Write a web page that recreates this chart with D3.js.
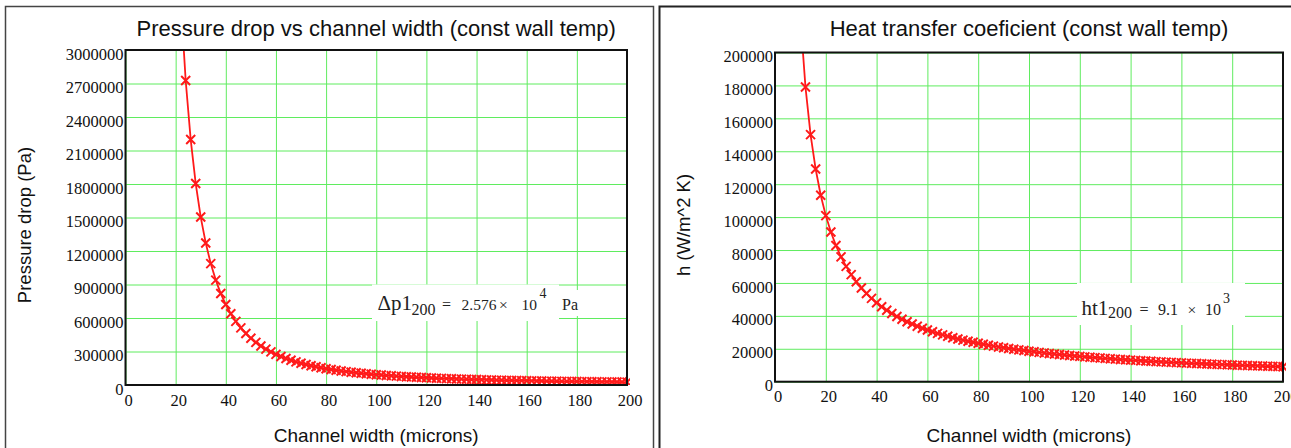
<!DOCTYPE html>
<html>
<head>
<meta charset="utf-8">
<script src="https://cdn.jsdelivr.net/npm/d3@7"></script>
<style>
  body { margin: 0; background: #fff; }
  svg { display: block; }
</style>
</head>
<body>
<svg id="chart" width="1291" height="448"></svg>
<script>
// channel widths (microns)
const widths = [10, 12, 14, 16, 18, 20, 22, 24, 26, 28, 30, 32, 34, 36, 38, 40, 42, 44, 46, 48,
  50, 52, 54, 56, 58, 60, 62, 64, 66, 68, 70, 72, 74, 76, 78, 80, 82, 84, 86, 88,
  90, 92, 94, 96, 98, 100, 102, 104, 106, 108, 110, 112, 114, 116, 118, 120, 122, 124, 126, 128,
  130, 132, 134, 136, 138, 140, 142, 144, 146, 148, 150, 152, 154, 156, 158, 160, 162, 164, 166, 168,
  170, 172, 174, 176, 178, 180, 182, 184, 186, 188, 190, 192, 194, 196, 198, 200];

// pressure drop (Pa), widths 22..200
const pressureDrop = [3457000, 2727000, 2198000, 1804000, 1504000, 1271000, 1087000, 939100, 819100, 720500,
  638400, 569700, 511300, 461600, 418800, 381800, 349600, 321300, 296400, 274300,
  254800, 237300, 221500, 207400, 194600, 183100, 172600, 163000, 154200, 146200,
  138800, 132000, 125700, 119800, 114400, 109400, 104700, 100400, 96310, 92500,
  88930, 85580, 82420, 79460, 76670, 74030, 71540, 69190, 66950, 64830,
  62820, 60910, 59110, 57380, 55740, 54170, 52660, 51240, 49880, 48570,
  47320, 46120, 44970, 43870, 42810, 41800, 40810, 39880, 38980, 38100,
  37270, 36460, 35680, 34930, 34210, 33500, 32830, 32180, 31540, 30930,
  30330, 29760, 29200, 28670, 28140, 27640, 27140, 26670, 26210, 25760];

// heat transfer coefficient (W/m^2 K), widths 10..200
const heatCoef = [221300, 179000, 150100, 129200, 113300, 100900, 90900, 82700, 75850, 70040,
  65060, 60730, 56940, 53590, 50620, 47950, 45550, 43380, 41410, 39600,
  37950, 36430, 35020, 33720, 32510, 31390, 30340, 29350, 28430, 27570,
  26750, 25980, 25260, 24570, 23920, 23310, 22720, 22160, 21630, 21130,
  20640, 20180, 19740, 19320, 18910, 18520, 18150, 17790, 17450, 17110,
  16800, 16490, 16190, 15900, 15630, 15360, 15100, 14850, 14610, 14380,
  14150, 13930, 13720, 13510, 13310, 13110, 12930, 12740, 12560, 12390,
  12220, 12050, 11890, 11740, 11590, 11440, 11290, 11150, 11010, 10880,
  10750, 10620, 10500, 10370, 10250, 10140, 10020, 9910, 9800, 9700,
  9590, 9490, 9390, 9290, 9190, 9100];

const xTicks = [0, 20, 40, 60, 80, 100, 120, 140, 160, 180, 200];
const pTicks = [0, 300000, 600000, 900000, 1200000, 1500000, 1800000, 2100000, 2400000, 2700000, 3000000];
const hTicks = [0, 20000, 40000, 60000, 80000, 100000, 120000, 140000, 160000, 180000, 200000];

const svg = d3.select("#chart");
const SERIF = "'Liberation Serif', 'Times New Roman', serif";
const SANS = "'Liberation Sans', Arial, sans-serif";
const GRID = "#5fec5f";
const RED = "#ff1a1a";

// panel frames
svg.append("rect").attr("x", 5.5).attr("y", 6.5).attr("width", 648).attr("height", 470)
  .attr("fill", "none").attr("stroke", "#444").attr("stroke-width", 1.5);
svg.append("rect").attr("x", 659.5).attr("y", 6.5).attr("width", 700).attr("height", 470)
  .attr("fill", "none").attr("stroke", "#222").attr("stroke-width", 2);

function drawPanel(o) {
  const x = d3.scaleLinear().domain([0, 200]).range([o.left, o.right]);
  const y = d3.scaleLinear().domain([0, o.ticks[o.ticks.length - 1]]).range([o.bottom, o.top]);
  const g = svg.append("g");

  // gridlines
  g.append("g")
    .attr("transform", `translate(${o.left},0)`)
    .call(d3.axisLeft(y).tickValues(o.ticks).tickSize(-(o.right - o.left)).tickFormat(""))
    .call(a => a.select(".domain").remove())
    .call(a => a.selectAll("line").attr("stroke", GRID));
  g.append("g")
    .attr("transform", `translate(0,${o.bottom})`)
    .call(d3.axisBottom(x).tickValues(xTicks).tickSize(-(o.bottom - o.top)).tickFormat(""))
    .call(a => a.select(".domain").remove())
    .call(a => a.selectAll("line").attr("stroke", GRID));

  // white boxes behind the annotation
  o.boxes.forEach(b => {
    g.append("rect").attr("x", b[0]).attr("y", b[1]).attr("width", b[2] - b[0]).attr("height", b[3] - b[1])
      .attr("fill", "#fff");
  });

  // tick labels
  g.append("g")
    .attr("transform", `translate(${o.left - 2},0)`)
    .call(d3.axisLeft(y).tickValues(o.ticks).tickSize(0).tickPadding(0).tickFormat(d3.format("d")))
    .call(a => a.select(".domain").remove())
    .call(a => a.selectAll("text")
      .attr("dy", "0.55em")
      .style("font-family", SERIF).style("font-size", "16.5px").attr("fill", "#111"));
  g.append("g")
    .attr("transform", `translate(0,${o.bottom})`)
    .call(d3.axisBottom(x).tickValues(xTicks).tickSize(0).tickPadding(9).tickFormat(d3.format("d")))
    .call(a => a.select(".domain").remove())
    .call(a => a.selectAll("text")
      .attr("x", 2.5)
      .style("font-family", SERIF).style("font-size", "16.5px").attr("fill", "#111"));

  // curve
  const clipId = "clip" + o.id;
  svg.append("clipPath").attr("id", clipId)
    .append("rect").attr("x", o.left).attr("y", o.top).attr("width", o.right - o.left + 3).attr("height", o.bottom - o.top);

  const pts = o.xs.map((w, i) => ({ w, v: o.values[i] }));
  const line = d3.line().x(d => x(d.w)).y(d => y(d.v));
  const cg = g.append("g").attr("clip-path", `url(#${clipId})`);
  cg.append("path").datum(pts)
    .attr("d", line).attr("fill", "none").attr("stroke", RED).attr("stroke-width", 1.8);
  cg.selectAll(".mk").data(pts.filter(d => d.v <= y.domain()[1])).join("path")
    .attr("class", "mk")
    .attr("transform", d => `translate(${x(d.w)},${y(d.v)})`)
    .attr("d", "M-4.5,-4.5L4.5,4.5M-4.5,4.5L4.5,-4.5")
    .attr("stroke", RED).attr("stroke-width", 2).attr("fill", "none");

  // plot frame
  g.append("rect").attr("x", o.left).attr("y", o.top)
    .attr("width", o.right - o.left).attr("height", o.bottom - o.top)
    .attr("fill", "none").attr("stroke", "#111").attr("stroke-width", 2);

  // titles
  g.append("text").attr("x", (o.left + o.right) / 2).attr("y", 36)
    .attr("text-anchor", "middle").style("font-family", SANS).style("font-size", "22px")
    .attr("fill", "#111").text(o.title);
  g.append("text").attr("x", (o.left + o.right) / 2).attr("y", 442)
    .attr("text-anchor", "middle").style("font-family", SANS).style("font-size", "19px")
    .attr("fill", "#111").text("Channel width (microns)");
  g.append("text").attr("transform", `translate(${o.ylabX},${o.ylabY}) rotate(-90)`)
    .attr("text-anchor", "middle").style("font-family", SANS).style("font-size", "18.5px")
    .attr("fill", "#111").text(o.ylabel);

  // annotation
  o.note.forEach(t => {
    g.append("text").attr("x", t.x).attr("y", t.y)
      .style("font-family", SERIF).style("font-size", (t.s || 15.5) + "px")
      .attr("fill", "#222").text(t.t);
  });
}

drawPanel({
  id: "p", left: 125.5, right: 627, top: 50, bottom: 385,
  xs: widths.slice(6), values: pressureDrop, ticks: pTicks,
  title: "Pressure drop vs channel width (const wall temp)",
  ylabel: "Pressure drop (Pa)", ylabX: 31, ylabY: 225,
  boxes: [[372, 284.5, 559, 321], [560, 290, 584, 316]],
  note: [
    { x: 377.5, y: 310, t: "\u0394p1", s: 21 },
    { x: 411.5, y: 314.5, t: "200", s: 16 },
    { x: 442, y: 310, t: "=", s: 16 },
    { x: 461.5, y: 310, t: "2.576" },
    { x: 499, y: 310, t: "\u00d7" },
    { x: 521.5, y: 310, t: "10" },
    { x: 539.5, y: 298, t: "4", s: 14 },
    { x: 562, y: 309.5, t: "Pa", s: 16 }
  ]
});

drawPanel({
  id: "h", left: 775, right: 1283, top: 52.5, bottom: 381.7,
  xs: widths, values: heatCoef, ticks: hTicks,
  title: "Heat transfer coeficient (const wall temp)",
  ylabel: "h (W/m^2 K)", ylabX: 690, ylabY: 225,
  boxes: [[1077, 283, 1245, 325]],
  note: [
    { x: 1081.5, y: 315, t: "ht1", s: 21 },
    { x: 1108, y: 317.5, t: "200", s: 16 },
    { x: 1139.5, y: 315, t: "=", s: 16 },
    { x: 1158, y: 315, t: "9.1", s: 16 },
    { x: 1187.5, y: 315, t: "\u00d7" },
    { x: 1205, y: 315, t: "10", s: 16 },
    { x: 1223, y: 303, t: "3", s: 14 }
  ]
});
</script>
</body>
</html>
